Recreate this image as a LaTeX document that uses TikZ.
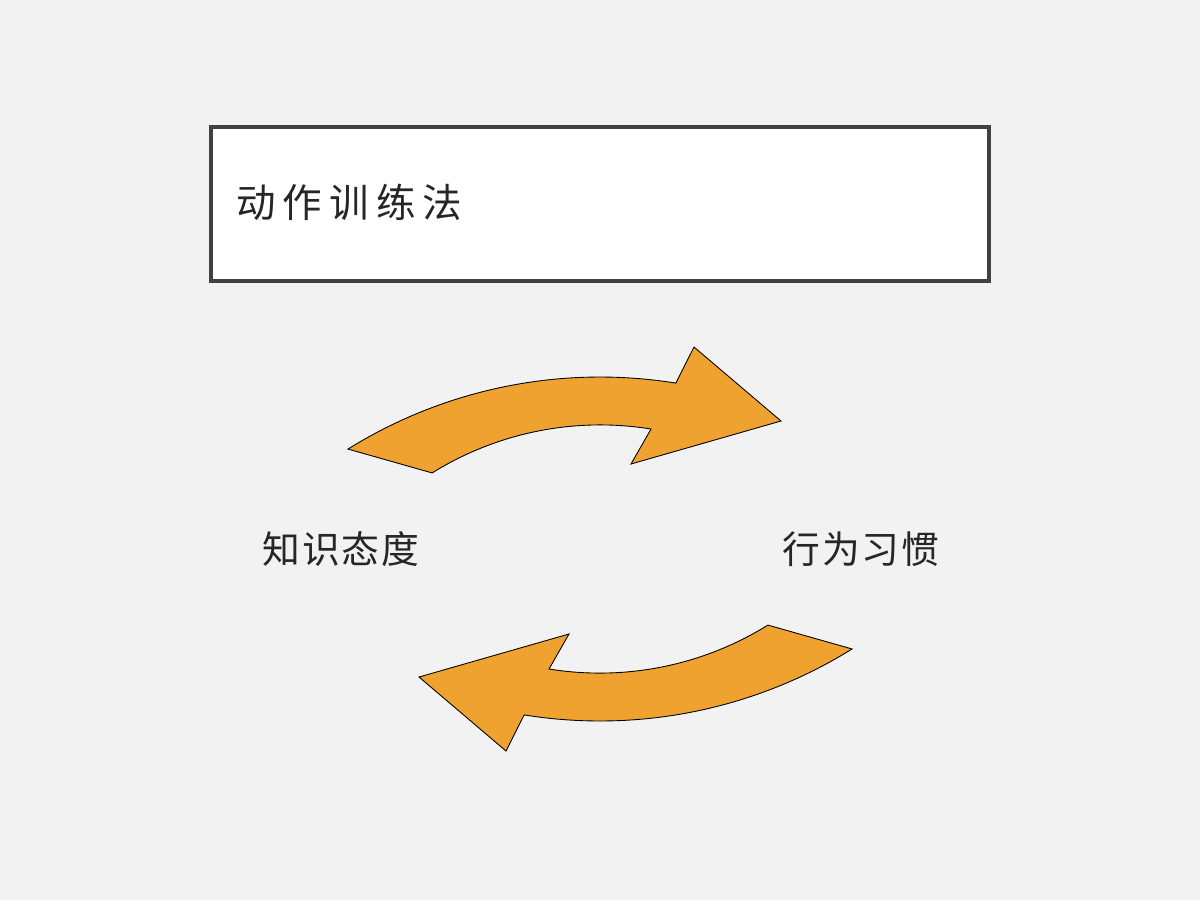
\documentclass[tikz,border=0pt]{standalone}
\usepackage{fontspec}
\newfontfamily\cjk{Noto Sans CJK SC}
\definecolor{bgc}{HTML}{F2F2F2}
\definecolor{arrowc}{HTML}{EFA22F}
\definecolor{boxc}{HTML}{404040}
\definecolor{txtc}{HTML}{262626}
\tikzset{
  bigarrow/.style={fill=arrowc, draw=black, line width=0.5pt, line join=miter},
  titlebox/.style={draw=boxc, fill=white, line width=0.08cm},
  lbl/.style={font=\cjk\fontsize{21.5pt}{24pt}\selectfont, text=txtc, inner sep=0pt}
}
\begin{document}
\begin{tikzpicture}[x=0.02cm,y=-0.02cm]
\useasboundingbox[fill=bgc] (0,0) rectangle (1200,900);
% title box
\draw[titlebox] (211,127) rectangle (989,281);
\node[anchor=west, inner sep=0pt, text=txtc, font=\cjk\fontsize{22.5pt}{26pt}\selectfont] (title) at (236,202)
  {动\hspace{4pt}作\hspace{4pt}训\hspace{4pt}练\hspace{4pt}法};
% labels
\node[lbl] (left) at (341,549) {知\hspace{1pt}识\hspace{1pt}态\hspace{1pt}度};
\node[lbl] (right) at (861,549) {行\hspace{1pt}为\hspace{1pt}习\hspace{1pt}惯};
% arrows
\newcommand{\cyclearrow}{%
  \draw[bigarrow] (600,854) ++(-121.9:477) arc[start angle=-121.9, end angle=-80.85, radius=477]
    -- (694,347) -- (781,421) -- (631,464) -- (651,429)
    arc[start angle=-80.8, end angle=-121.9, radius=318] -- cycle;}
\cyclearrow
\begin{scope}[rotate around={180:(600,549)}]
\cyclearrow
\end{scope}
\end{tikzpicture}
\end{document}
